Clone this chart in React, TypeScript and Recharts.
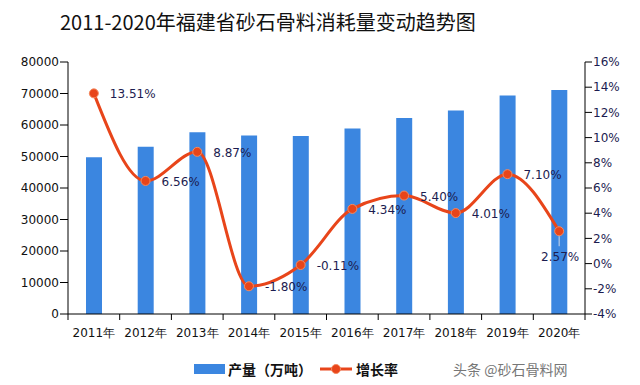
import React from 'react';
import {
  ComposedChart,
  Bar,
  Line,
  XAxis,
  YAxis,
  LabelList
} from 'recharts';

const years = ['2011年', '2012年', '2013年', '2014年', '2015年', '2016年', '2017年', '2018年', '2019年', '2020年'];
const output = [49800, 53100, 57700, 56700, 56500, 58900, 62200, 64600, 69400, 71100];
const rate = [13.51, 6.56, 8.87, -1.8, -0.11, 4.34, 5.4, 4.01, 7.1, 2.57];
const leftTicks = [0, 10000, 20000, 30000, 40000, 50000, 60000, 70000, 80000];
const rightTicks = [-4, -2, 0, 2, 4, 6, 8, 10, 12, 14, 16];

const rows = years.map((year, i) => ({ year, output: output[i], rate: rate[i] }));

const BAR = '#3b86e0';
const LINE = '#e8451a';
const NUM_FONT = '"DejaVu Sans", Verdana, sans-serif';
const CJK_FONT = '"Noto Sans CJK SC", "Noto Sans", sans-serif';
const BAND = 51.7; // plot width / 10

const YearTick = (props: any) => {
  const { x, y, payload, index } = props;
  const axisY = y - 8;
  return (
    <g>
      <line x1={x - BAND / 2} x2={x - BAND / 2} y1={axisY} y2={axisY + 6} stroke="#000" />
      {index === years.length - 1 && (
        <line x1={x + BAND / 2} x2={x + BAND / 2} y1={axisY} y2={axisY + 6} stroke="#000" />
      )}
      <text x={x} y={axisY + 23} textAnchor="middle" fontSize={12} fill="#111" fontFamily={NUM_FONT}>
        {payload.value}
      </text>
    </g>
  );
};

const RateLabel = (props: any) => {
  const { x, y, value, index } = props;
  const txt = `${Number(value).toFixed(2)}%`;
  if (index === rate.length - 1) {
    return (
      <g>
        <line x1={x} x2={x} y1={y + 5} y2={y + 15} stroke="#cfd8e8" />
        <text x={x + 1} y={y + 30} textAnchor="middle" fontSize={12} fill="#1c1c50" fontFamily={NUM_FONT}>
          {txt}
        </text>
      </g>
    );
  }
  return (
    <text x={x + 16} y={y + 5} textAnchor="start" fontSize={12} fill="#1c1c50" fontFamily={NUM_FONT}>
      {txt}
    </text>
  );
};

export default function App() {
  return (
    <div style={{ position: 'absolute', left: 0, top: 0, width: 640, height: 385, background: '#fff' }}>
      <div
        style={{
          position: 'absolute',
          left: 60,
          top: 9,
          width: 402,
          textAlign: 'center',
          fontSize: 20,
          lineHeight: '26px',
          fontFamily: CJK_FONT,
          color: '#111',
          whiteSpace: 'nowrap'
        }}
      >
        2011-2020年福建省砂石骨料消耗量变动趋势图
      </div>
      <ComposedChart width={640} height={385} data={rows} margin={{ top: 62, right: 5, bottom: 41, left: 8 }}>
        <XAxis
          dataKey="year"
          height={30}
          interval={0}
          axisLine={{ stroke: '#000' }}
          tickLine={false}
          tick={<YearTick />}
        />
        <YAxis
          yAxisId="left"
          width={60}
          domain={[0, 80000]}
          ticks={leftTicks}
          interval={0}
          axisLine={{ stroke: '#000' }}
          tickLine={{ stroke: '#000' }}
          tickSize={8}
          tickMargin={1}
          tick={{ fontSize: 12, fill: '#111', fontFamily: NUM_FONT }}
        />
        <YAxis
          yAxisId="right"
          orientation="right"
          width={50}
          domain={[-4, 16]}
          ticks={rightTicks}
          interval={0}
          tickFormatter={(v) => `${v}%`}
          axisLine={{ stroke: '#000' }}
          tickLine={{ stroke: '#000' }}
          tickSize={7}
          tickMargin={1}
          tick={{ fontSize: 12, fill: '#1c1c50', fontFamily: NUM_FONT }}
        />
        <Bar yAxisId="left" dataKey="output" fill={BAR} barSize={16} isAnimationActive={false} />
        <Line
          yAxisId="right"
          type="monotone"
          dataKey="rate"
          stroke={LINE}
          strokeWidth={3}
          dot={{ r: 4.5, fill: LINE, stroke: '#f58a60', strokeWidth: 1 }}
          activeDot={false}
          isAnimationActive={false}
        >
          <LabelList dataKey="rate" content={RateLabel} />
        </Line>
      </ComposedChart>
      <div
        style={{
          position: 'absolute',
          left: 194,
          top: 358,
          display: 'flex',
          alignItems: 'center',
          fontFamily: CJK_FONT,
          fontSize: 14,
          fontWeight: 'bold',
          color: '#111',
          lineHeight: '22px'
        }}
      >
        <span style={{ display: 'inline-block', width: 31, height: 10, background: BAR, marginRight: 3 }} />
        <span>产量（万吨）</span>
        <svg width={32} height={12} style={{ marginLeft: 8, marginRight: 4 }}>
          <line x1={0} x2={32} y1={6} y2={6} stroke={LINE} strokeWidth={3} />
          <circle cx={16} cy={6} r={4.5} fill={LINE} stroke="#f58a60" strokeWidth={1} />
        </svg>
        <span>增长率</span>
      </div>
      <div
        style={{
          position: 'absolute',
          left: 453,
          top: 358,
          fontFamily: CJK_FONT,
          fontSize: 14,
          color: '#777',
          lineHeight: '22px',
          whiteSpace: 'nowrap'
        }}
      >
        头条 @砂石骨料网
      </div>
    </div>
  );
}
